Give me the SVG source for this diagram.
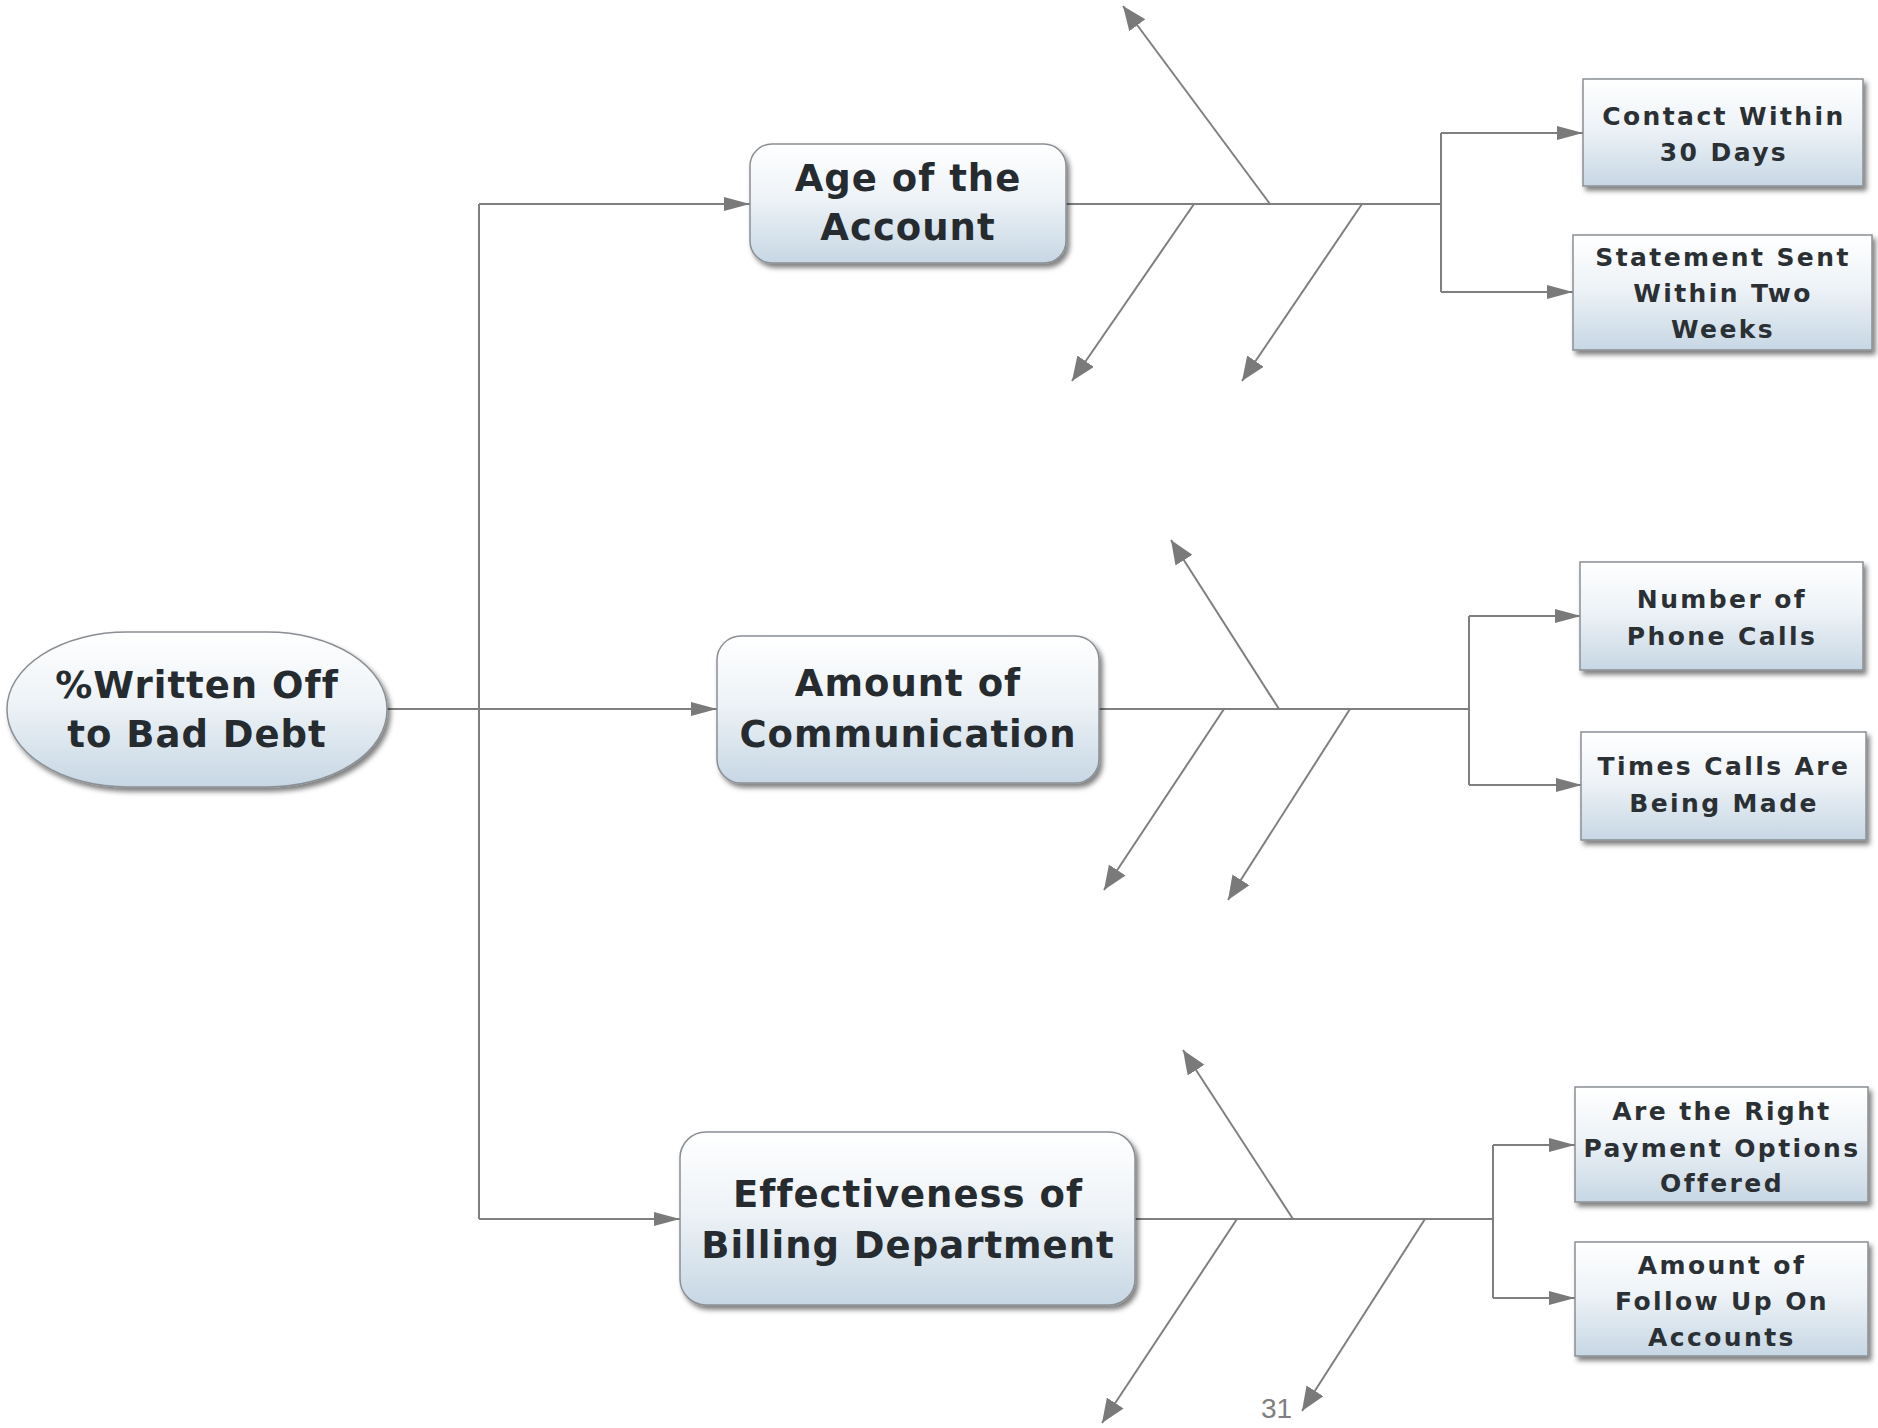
<svg xmlns="http://www.w3.org/2000/svg" width="1878" height="1428" viewBox="0 0 1878 1428">
<defs>
  <linearGradient id="g" x1="0" y1="0" x2="0" y2="1">
    <stop offset="0" stop-color="#ffffff"/>
    <stop offset="0.45" stop-color="#eef3f7"/>
    <stop offset="1" stop-color="#c7d7e4"/>
  </linearGradient>
  <filter id="sh" x="-10%" y="-10%" width="125%" height="130%">
    <feDropShadow dx="3" dy="4" stdDeviation="2.5" flood-color="#000" flood-opacity="0.5"/>
  </filter>
  <marker id="ah" markerUnits="userSpaceOnUse" markerWidth="28" markerHeight="16" refX="26" refY="7" orient="auto">
    <path d="M0,0 L26,7 L0,14 z" fill="#7a7a7a"/>
  </marker>
  <marker id="ad" markerUnits="userSpaceOnUse" markerWidth="26" markerHeight="22" refX="24" refY="10" orient="auto">
    <path d="M0,0 L24,10 L0,20 z" fill="#7a7a7a"/>
  </marker>
</defs>
<style>
  .box { fill: url(#g); stroke: #8a8f94; stroke-width: 1.5; filter: url(#sh); }
  .big { font-family: "DejaVu Sans", "Liberation Sans", sans-serif; font-weight: bold; font-size: 37px; fill: #262b30; text-anchor: middle; letter-spacing: 1px; }
  .small { font-family: "DejaVu Sans", "Liberation Sans", sans-serif; font-weight: bold; font-size: 25px; fill: #2b3035; text-anchor: middle; letter-spacing: 2.4px; }
  .c { fill: none; stroke: #7f7f7f; stroke-width: 2; }
  .arr { marker-end: url(#ah); }
  .dia { marker-end: url(#ad); }
  .pg { font-family: "Liberation Sans", "Open Sans", sans-serif; font-size: 28px; fill: #7f7f7f; }
</style>

<g id="connectors">
  <path class="c arr" d="M387,709 L717,709"/>
  <path class="c" d="M479,204 L479,1219"/>
  <path class="c arr" d="M479,204 L750,204"/>
  <path class="c arr" d="M479,1219 L680,1219"/>

  <path class="c" d="M1066,204 L1441,204"/>
  <path class="c dia" d="M1270,204 L1123,6"/>
  <path class="c dia" d="M1194,204 L1072,381"/>
  <path class="c dia" d="M1362,204 L1242,381"/>
  <path class="c" d="M1441,133 L1441,292"/>
  <path class="c arr" d="M1441,133 L1583,133"/>
  <path class="c arr" d="M1441,292 L1573,292"/>

  <path class="c" d="M1099,709 L1469,709"/>
  <path class="c dia" d="M1279,709 L1171,540"/>
  <path class="c dia" d="M1224,709 L1104,890"/>
  <path class="c dia" d="M1350,709 L1228,900"/>
  <path class="c" d="M1469,616 L1469,785"/>
  <path class="c arr" d="M1469,616 L1581,616"/>
  <path class="c arr" d="M1469,785 L1582,785"/>

  <path class="c" d="M1135,1219 L1494,1219"/>
  <path class="c dia" d="M1293,1219 L1183,1050"/>
  <path class="c dia" d="M1237,1219 L1102,1423"/>
  <path class="c dia" d="M1425,1219 L1302,1411"/>
  <path class="c" d="M1493,1145 L1493,1298"/>
  <path class="c arr" d="M1493,1145 L1575,1145"/>
  <path class="c arr" d="M1493,1298 L1575,1298"/>
</g>

<g id="root">
  <rect class="box" x="7" y="632" width="380" height="155" rx="120" ry="77"/>
  <text class="big" x="197" y="698">%Written Off</text>
  <text class="big" x="197" y="747">to Bad Debt</text>
</g>

<g id="age">
  <rect class="box" x="750" y="144" width="316" height="119" rx="22"/>
  <text class="big" x="908" y="191">Age of the</text>
  <text class="big" x="908" y="240">Account</text>
</g>

<g id="communication">
  <rect class="box" x="717" y="636" width="382" height="147" rx="24"/>
  <text class="big" x="908" y="696">Amount of</text>
  <text class="big" x="908" y="747">Communication</text>
</g>

<g id="billing">
  <rect class="box" x="680" y="1132" width="455" height="173" rx="26"/>
  <text class="big" x="908" y="1207">Effectiveness of</text>
  <text class="big" x="908" y="1258">Billing Department</text>
</g>

<g id="contact">
  <rect class="box" x="1583" y="79" width="280" height="107"/>
  <text class="small" x="1724" y="125">Contact Within</text>
  <text class="small" x="1724" y="161">30 Days</text>
</g>

<g id="statement">
  <rect class="box" x="1573" y="235" width="299" height="115"/>
  <text class="small" x="1723" y="266">Statement Sent</text>
  <text class="small" x="1723" y="302">Within Two</text>
  <text class="small" x="1723" y="338">Weeks</text>
</g>

<g id="phonecalls">
  <rect class="box" x="1580" y="562" width="283" height="108"/>
  <text class="small" x="1722" y="608">Number of</text>
  <text class="small" x="1722" y="645">Phone Calls</text>
</g>

<g id="timescalls">
  <rect class="box" x="1581" y="732" width="285" height="108"/>
  <text class="small" x="1724" y="775">Times Calls Are</text>
  <text class="small" x="1724" y="812">Being Made</text>
</g>

<g id="payment">
  <rect class="box" x="1575" y="1087" width="293" height="115"/>
  <text class="small" x="1722" y="1120">Are the Right</text>
  <text class="small" x="1722" y="1157">Payment Options</text>
  <text class="small" x="1722" y="1192">Offered</text>
</g>

<g id="followup">
  <rect class="box" x="1575" y="1242" width="293" height="114"/>
  <text class="small" x="1722" y="1274">Amount of</text>
  <text class="small" x="1722" y="1310">Follow Up On</text>
  <text class="small" x="1722" y="1346">Accounts</text>
</g>

<text class="pg" x="1261" y="1418">31</text>
</svg>
